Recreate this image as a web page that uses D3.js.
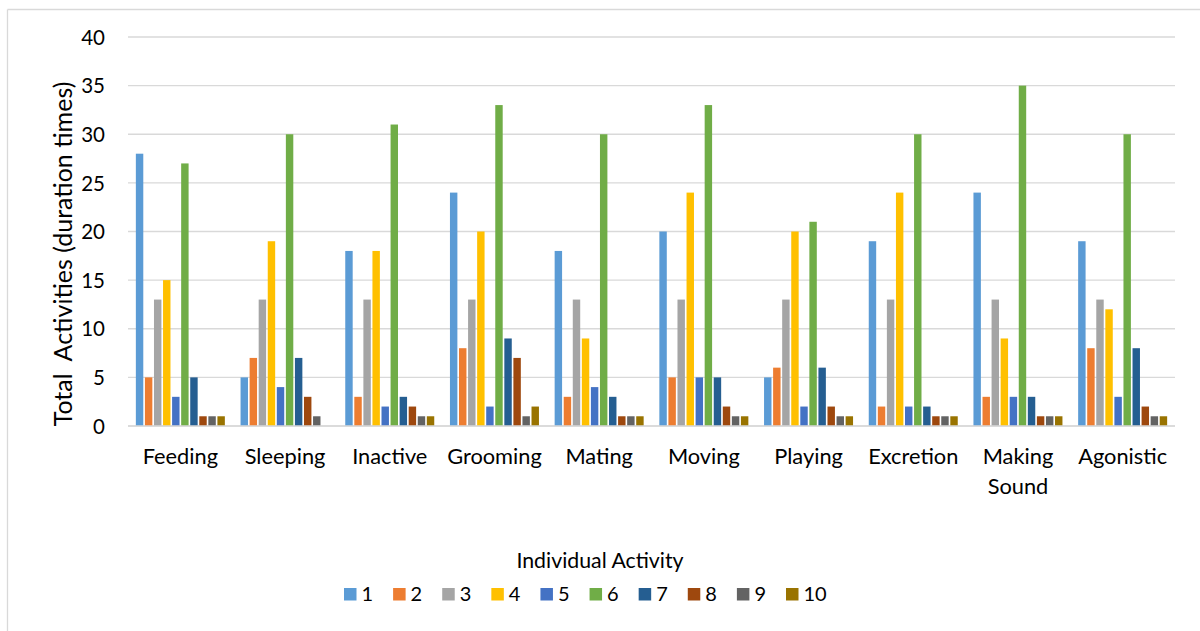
<!DOCTYPE html>
<html><head><meta charset="utf-8">
<script src="https://cdn.jsdelivr.net/npm/d3@7"></script>
<style>body{margin:0;background:#fff}svg{display:block;font-family:Lato,"Noto Sans",sans-serif}</style>
</head><body><svg id="c" width="1200" height="631"></svg>
<script>
const categories = ["Feeding","Sleeping","Inactive","Grooming","Mating","Moving","Playing","Excretion","Making Sound","Agonistic"];
const seriesNames = ["1","2","3","4","5","6","7","8","9","10"];
const s1  = [28,5,18,24,18,20,5,19,24,19];
const s2  = [5,7,3,8,3,5,6,2,3,8];
const s3  = [13,13,13,13,13,13,13,13,13,13];
const s4  = [15,19,18,20,9,24,20,24,9,12];
const s5  = [3,4,2,2,4,5,2,2,3,3];
const s6  = [27,30,31,33,30,33,21,30,35,30];
const s7  = [5,7,3,9,3,5,6,2,3,8];
const s8  = [1,3,2,7,1,2,2,1,1,2];
const s9  = [1,1,1,1,1,1,1,1,1,1];
const s10 = [1,0,1,2,1,1,1,1,1,1];
const seriesValues = [s1,s2,s3,s4,s5,s6,s7,s8,s9,s10];
const yTicks = [0,5,10,15,20,25,30,35,40];
const colors = ["#5B9BD5","#ED7D31","#A5A5A5","#FFC000","#4472C4","#70AD47","#255E91","#9E480E","#636363","#997300"];

const svg = d3.select("#c");
// outer chart frame (partially visible)
svg.append("line").attr("x1",7.5).attr("x2",7.5).attr("y1",9.5).attr("y2",631).attr("stroke","#d9d9d9").attr("stroke-width",1.3);
svg.append("line").attr("x1",7.5).attr("x2",1200).attr("y1",9.5).attr("y2",9.5).attr("stroke","#d9d9d9").attr("stroke-width",1.3);

const L=128, R=1175, T=37, B=426;
const x0 = d3.scaleBand().domain(categories).range([L,R]).paddingInner(0.15).paddingOuter(0.075);
const x1 = d3.scaleBand().domain(seriesNames).range([0,x0.bandwidth()]).paddingInner(0.18).paddingOuter(0);
const y = d3.scaleLinear().domain([0,40]).range([B,T]);

// gridlines
svg.append("g").selectAll("line").data(yTicks).join("line")
  .attr("x1",L).attr("x2",R).attr("y1",d=>y(d)).attr("y2",d=>y(d))
  .attr("stroke","#d9d9d9").attr("stroke-width",1.3);

// y axis labels
const yAxis = d3.axisLeft(y).tickValues(yTicks).tickSize(0).tickPadding(0);
const ya = svg.append("g").attr("transform","translate(105,0)").call(yAxis);
ya.select(".domain").remove();
ya.selectAll("text").attr("font-size",20.5).attr("font-family","Lato,'Noto Sans',sans-serif").attr("fill","#000").attr("dy","0.35em");

// bars
const g = svg.append("g");
categories.forEach((c,ci)=>{
  seriesNames.forEach((s,si)=>{
    const v = seriesValues[si][ci];
    if(v<=0) return;
    g.append("rect")
      .attr("x",x0(c)+x1(s)).attr("width",x1.bandwidth())
      .attr("y",y(v)).attr("height",y(0)-y(v))
      .attr("fill",colors[si]);
  });
});

// baseline
svg.append("line").attr("x1",L).attr("x2",R).attr("y1",B).attr("y2",B).attr("stroke","#d9d9d9").attr("stroke-width",1.5);

// category labels
const xl = svg.append("g").attr("font-size",21.8).attr("fill","#000").attr("text-anchor","middle");
categories.forEach(c=>{
  const cx = x0(c)+x0.bandwidth()/2;
  const words = c.split(" ");
  const t = xl.append("text").attr("x",cx).attr("y",464);
  words.forEach((w,i)=>t.append("tspan").attr("x",cx).attr("dy",i===0?0:29.5).text(w));
});

// y title
svg.append("text").attr("transform","translate(72,254) rotate(-90)")
  .attr("text-anchor","middle").attr("font-size",25).attr("fill","#000")
  .attr("xml:space","preserve").style("white-space","pre")
  .text("Total  Activities (duration times)");

// x title
svg.append("text").attr("x",600).attr("y",568).attr("text-anchor","middle")
  .attr("font-size",21.3).attr("fill","#000").text("Individual Activity");

// legend
const lx = d3.scaleLinear().domain([0,9]).range([344,786]);
const lg = svg.append("g");
seriesNames.forEach((s,i)=>{
  lg.append("rect").attr("x",lx(i)).attr("y",588).attr("width",12.5).attr("height",12.5).attr("fill",colors[i]);
  lg.append("text").attr("x",lx(i)+17.5).attr("y",601).attr("font-size",20).attr("fill","#000").text(s);
});
</script></body></html>
